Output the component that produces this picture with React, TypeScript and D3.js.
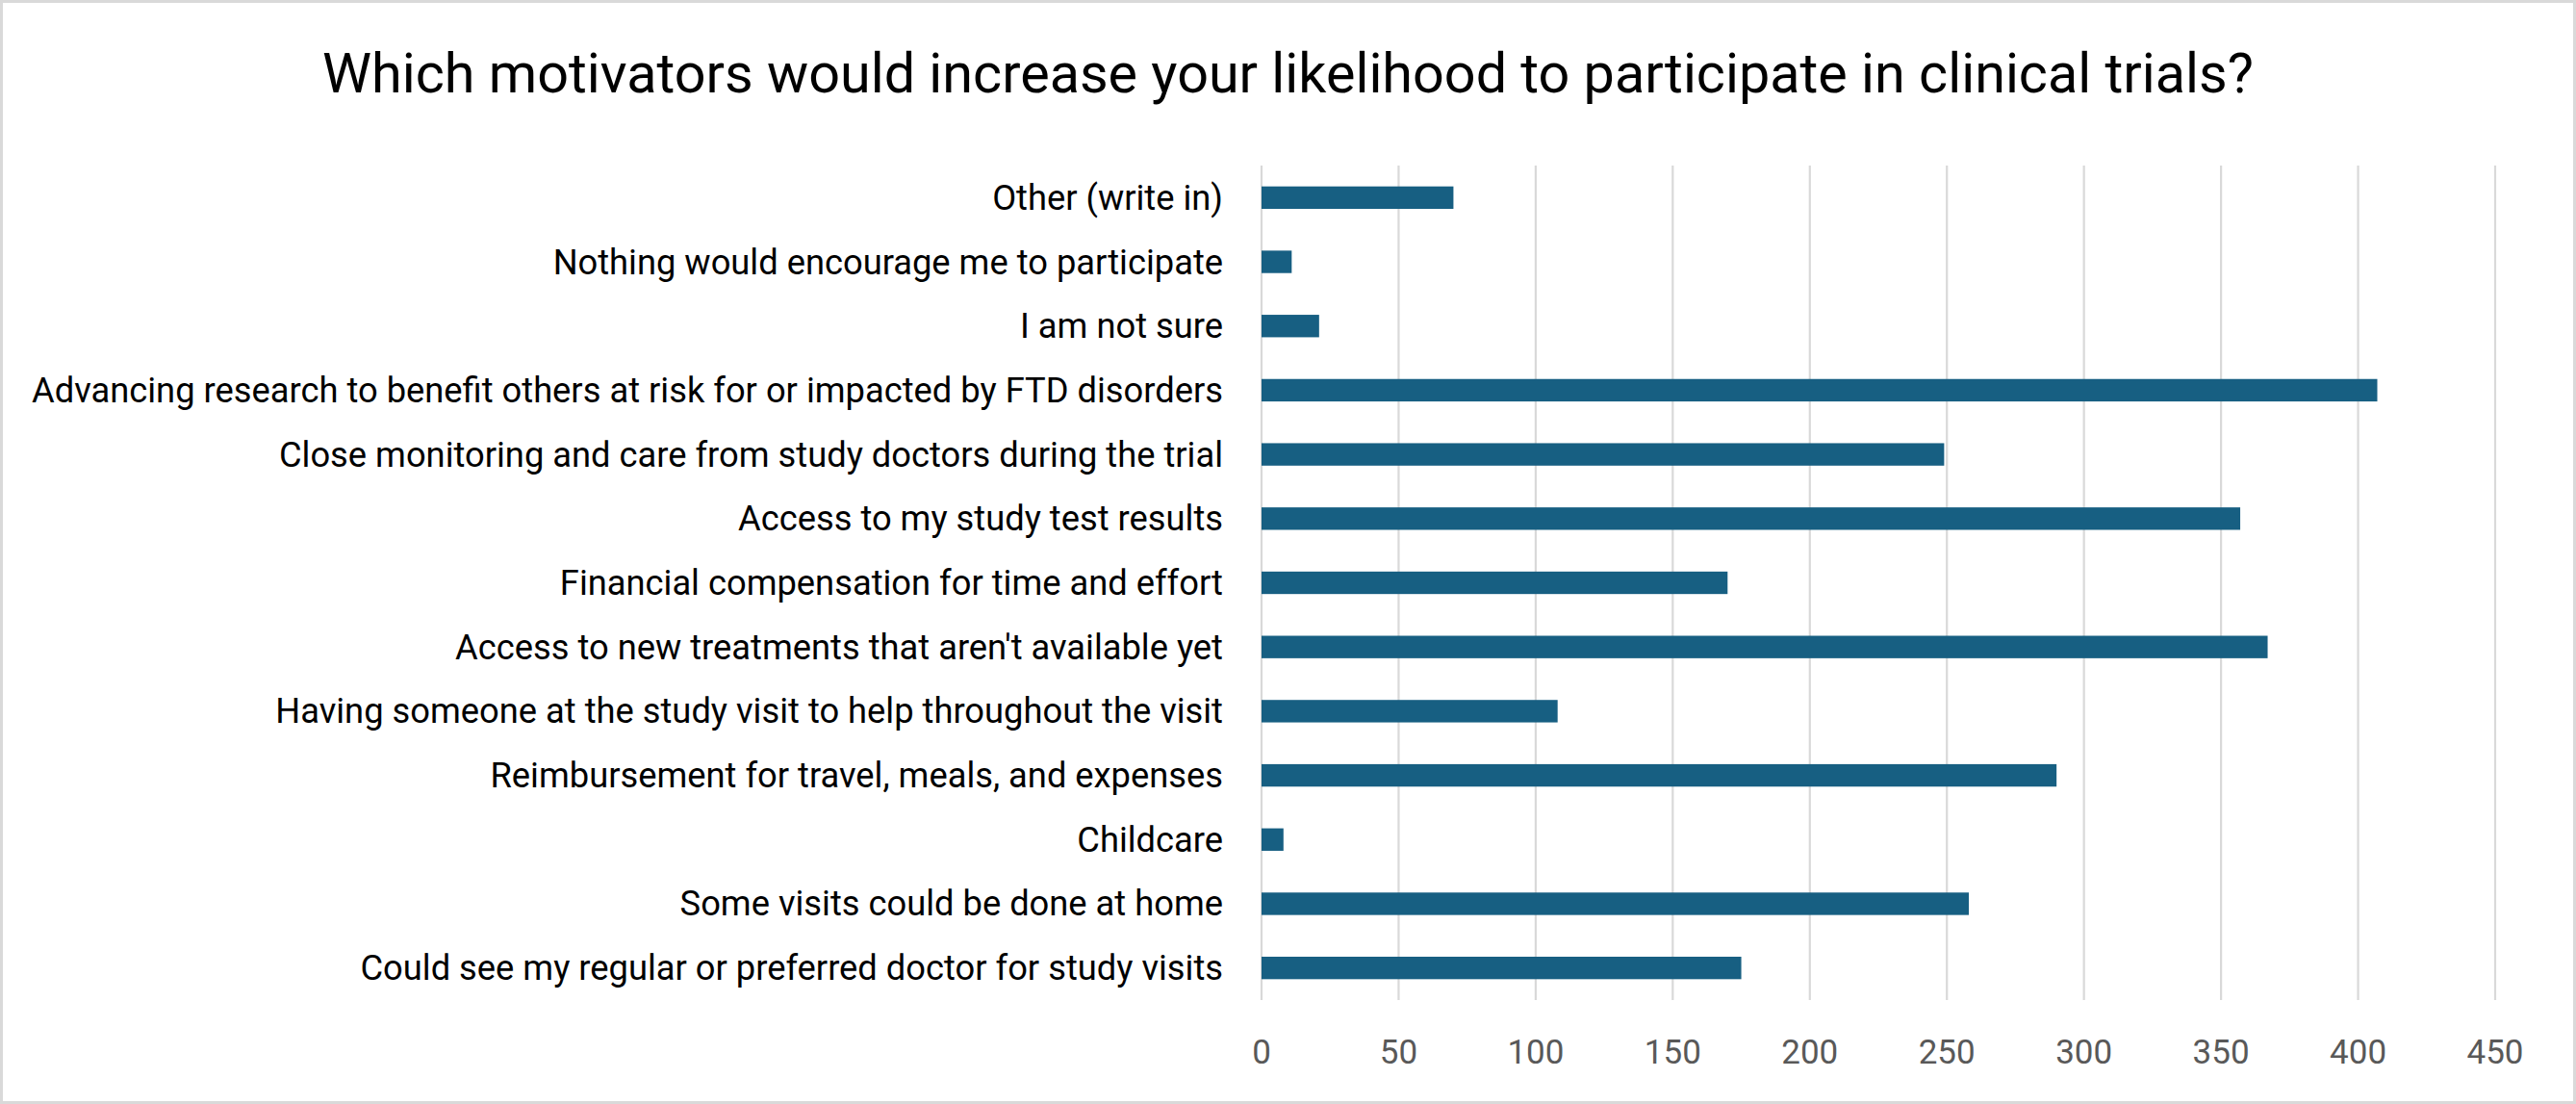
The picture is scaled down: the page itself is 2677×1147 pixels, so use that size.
import React from "react";
import * as d3 from "d3";

const categories = [
  "Other (write in)",
  "Nothing would encourage me to participate",
  "I am not sure",
  "Advancing research to benefit others at risk for or impacted by FTD disorders",
  "Close monitoring and care from study doctors during the trial",
  "Access to my study test results",
  "Financial compensation for time and effort",
  "Access to new treatments that aren't available yet",
  "Having someone at the study visit to help throughout the visit",
  "Reimbursement for travel, meals, and expenses",
  "Childcare",
  "Some visits could be done at home",
  "Could see my regular or preferred doctor for study visits",
];
const values = [70, 11, 21, 407, 249, 357, 170, 367, 108, 290, 8, 258, 175];
const ticks = [0, 50, 100, 150, 200, 250, 300, 350, 400, 450];
const title = "Which motivators would increase your likelihood to participate in clinical trials?";

const W = 2677;
const H = 1147;
const FONT = "Roboto, 'Noto Sans', 'DejaVu Sans', sans-serif";

export default function App() {
  const x = d3.scaleLinear().domain([0, 450]).range([1311, 2593]);
  const y = d3
    .scaleBand<string>()
    .domain(categories)
    .range([172, 1039])
    .paddingInner(0.65)
    .paddingOuter(0.325);

  return (
    <svg
      width={W}
      height={H}
      style={{ position: "absolute", left: 0, top: 0, background: "#fff" }}
      fontFamily={FONT}
    >
      <rect x={1.5} y={1.5} width={W - 3} height={H - 3} fill="#fff" stroke="#d9d9d9" strokeWidth={3} />
      <text x={W / 2} y={96} textAnchor="middle" fontSize={57.5} fill="#000">
        {title}
      </text>
      {ticks.map((t) => (
        <line key={"g" + t} x1={x(t)} x2={x(t)} y1={172} y2={1039} stroke="#d9d9d9" strokeWidth={2.2} />
      ))}
      {categories.map((c, i) => (
        <rect
          key={"b" + c}
          x={x(0)}
          y={y(c)}
          width={x(values[i]) - x(0)}
          height={y.bandwidth()}
          fill="#175f82"
        />
      ))}
      {categories.map((c) => (
        <text
          key={"l" + c}
          x={1271}
          y={(y(c) as number) + y.bandwidth() / 2 + 12.5}
          textAnchor="end"
          fontSize={36.3}
          fill="#000"
        >
          {c}
        </text>
      ))}
      {ticks.map((t) => (
        <text key={"t" + t} x={x(t)} y={1105} textAnchor="middle" fontSize={35} fill="#595959">
          {t}
        </text>
      ))}
    </svg>
  );
}
